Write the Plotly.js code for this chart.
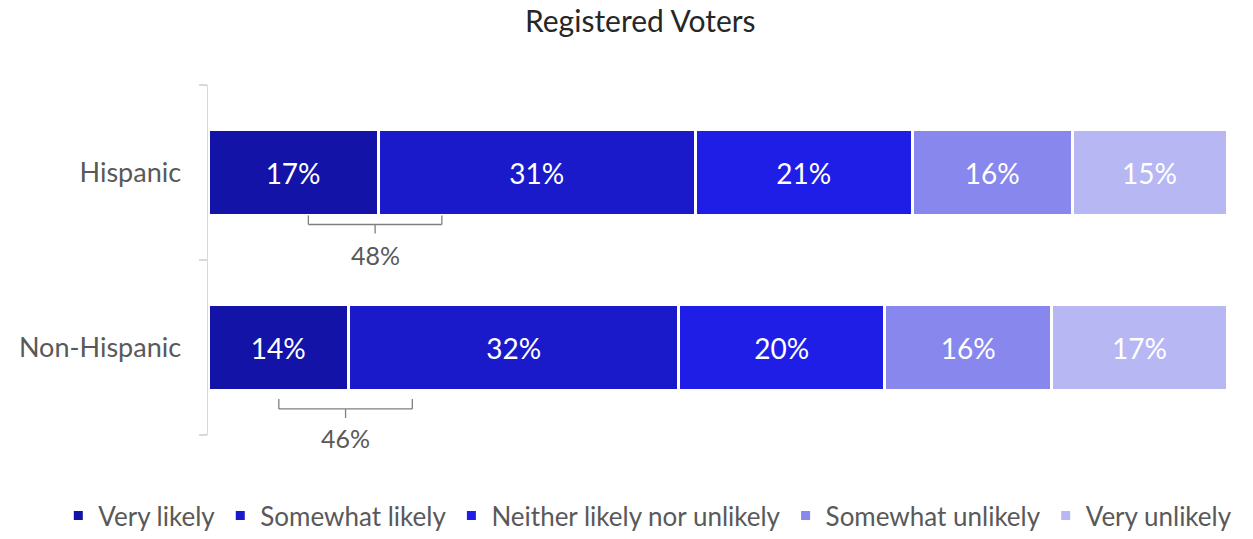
<!DOCTYPE html>
<html>
<head>
<meta charset="utf-8">
<script src="https://cdn.plot.ly/plotly-3.0.1.min.js"></script>
<style>html,body{margin:0;padding:0;background:#fff;}#chart{width:1253px;height:539px;}</style>
</head>
<body>
<div id="chart"></div>
<script>
// ---- data ----
const groups = ["Hispanic", "Non-Hispanic"];
const seriesNames = ["Very likely", "Somewhat likely", "Neither likely nor unlikely", "Somewhat unlikely", "Very unlikely"];
const veryLikely = [16.7, 13.8];
const somewhatLikely = [31.1, 32.4];
const neither = [21.3, 20.2];
const somewhatUnlikely = [15.7, 16.4];
const veryUnlikely = [15.2, 17.2];
const netLikelyLabels = ["48%", "46%"];
const chartTitle = "Registered Voters";

// ---- styles ----
const colors = ["#1313A8", "#1A1ACB", "#1E1EE6", "#8787ED", "#B7B7F4"];
const FONT = "Lato, 'Open Sans', sans-serif";
const GRAY = "#595959";

const seriesValues = [veryLikely, somewhatLikely, neither, somewhatUnlikely, veryUnlikely];
const yCats = groups.slice().reverse();

const traces = seriesValues.map((vals, i) => ({
  type: "bar",
  orientation: "h",
  name: seriesNames[i],
  y: groups,
  x: vals,
  text: vals.map(v => Math.round(v) + "%"),
  textposition: "inside",
  insidetextanchor: "middle",
  textangle: 0,
  textfont: {color: "#ffffff", size: 28, family: FONT},
  marker: {color: colors[i], line: {color: "#ffffff", width: 3}},
  hoverinfo: "skip"
}));

// bracket shapes under the first two segments (offsets in category units, converted to paper)
const shapes = [];
const annotations = [];
const bracketSpec = [
  {idx: 0, top: -0.245, mid: -0.297, stem: -0.349, text: -0.474},
  {idx: 1, top: -0.294, mid: -0.351, stem: -0.403, text: -0.517}
];
const toPaper = (cat, off) => (cat + 0.5 + off) / yCats.length;
bracketSpec.forEach((b) => {
  const catIndex = yCats.indexOf(groups[b.idx]);
  const c = veryLikely[b.idx] - 0.3;
  const half = 6.55;
  const lineStyle = {color: "#7f7f7f", width: 1.3};
  const x0 = c - half, x1 = c + half;
  const yTop = toPaper(catIndex, b.top), yMid = toPaper(catIndex, b.mid), yStem = toPaper(catIndex, b.stem);
  shapes.push({type: "line", xref: "x", yref: "paper", x0: x0, x1: x0, y0: yTop, y1: yMid, line: lineStyle});
  shapes.push({type: "line", xref: "x", yref: "paper", x0: x0, x1: x1, y0: yMid, y1: yMid, line: lineStyle});
  shapes.push({type: "line", xref: "x", yref: "paper", x0: x1, x1: x1, y0: yMid, y1: yTop, line: lineStyle});
  shapes.push({type: "line", xref: "x", yref: "paper", x0: c, x1: c, y0: yMid, y1: yStem, line: lineStyle});
  annotations.push({xref: "x", yref: "paper", x: c, y: toPaper(catIndex, b.text), text: netLikelyLabels[b.idx],
    showarrow: false, font: {size: 25, color: GRAY, family: FONT}, xanchor: "center", yanchor: "middle"});
});

// plot area: x from 208 to 1227 px inside a wide grid so the legend has room
const ML = 20, MR = 5, W = 1253;
const gridW = W - ML - MR;
const layout = {
  width: W, height: 539,
  paper_bgcolor: "#ffffff", plot_bgcolor: "#ffffff",
  margin: {l: ML, r: MR, t: 85, b: 104},
  barmode: "stack",
  bargap: 0.51,
  title: {text: chartTitle, x: 0.511, xref: "container", xanchor: "center", y: 0.96, yanchor: "middle", yref: "container",
    font: {size: 30, color: "#262626", family: FONT}},
  xaxis: {range: [0, 100], visible: false, fixedrange: true,
    domain: [(208 - ML) / gridW, (1227 - ML) / gridW]},
  yaxis: {
    type: "category", categoryorder: "array", categoryarray: yCats,
    range: [-0.5, 1.5],
    showline: true, linecolor: "#d9d9d9", linewidth: 1.5,
    ticks: "outside", tickson: "boundaries", ticklen: 8, tickcolor: "#d9d9d9", tickwidth: 1.5,
    ticklabelstandoff: 20,
    tickfont: {size: 27, color: GRAY, family: FONT},
    showgrid: false, zeroline: false
  },
  showlegend: true,
  legend: {orientation: "h", xref: "container", x: 0.517, xanchor: "center",
    yref: "container", y: -0.014, yanchor: "bottom", traceorder: "normal",
    font: {size: 26, color: GRAY, family: FONT}, itemwidth: 30},
  shapes: shapes,
  annotations: annotations
};

Plotly.newPlot("chart", traces, layout, {displayModeBar: false, staticPlot: true});
</script>
</body>
</html>
